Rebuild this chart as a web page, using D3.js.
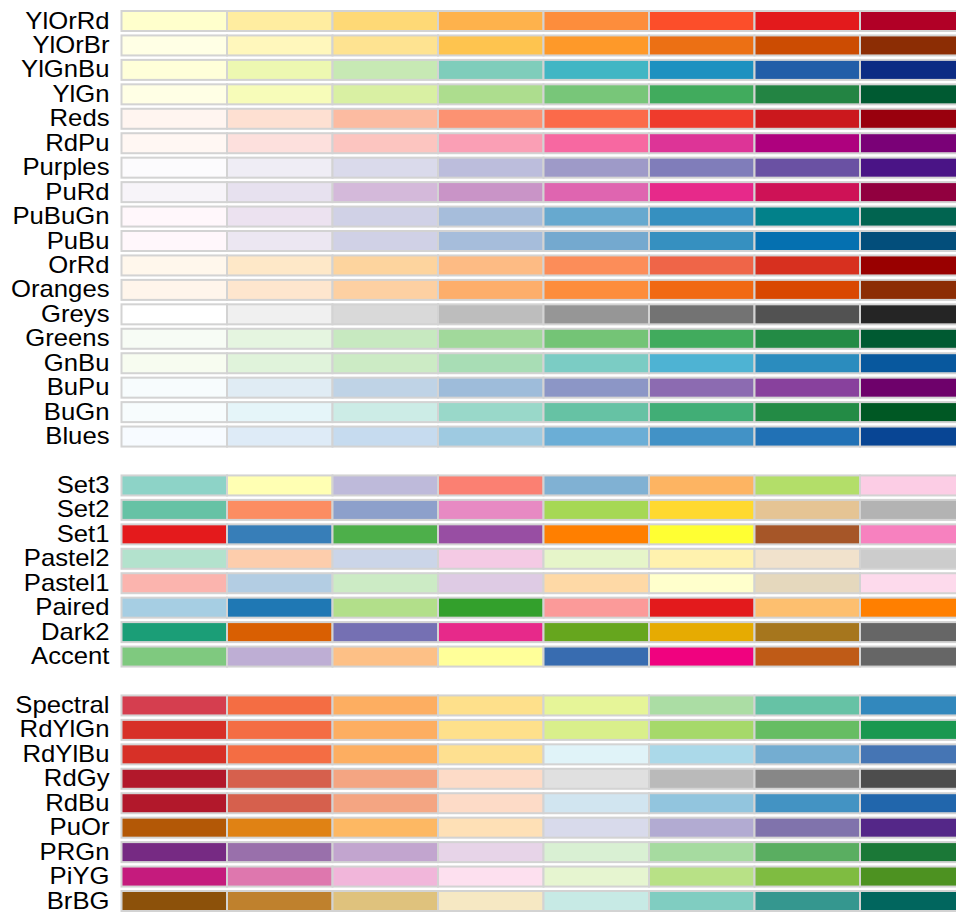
<!DOCTYPE html>
<html>
<head>
<meta charset="utf-8">
<script src="https://cdn.jsdelivr.net/npm/d3@7"></script>
<style>
  html, body { margin: 0; padding: 0; background: #fff; overflow: hidden; }
  svg { display: block; }
</style>
</head>
<body>
<svg id="chart" width="956" height="912"></svg>
<script>
// ---- Data ----
const seqNames = ["YlOrRd","YlOrBr","YlGnBu","YlGn","Reds","RdPu","Purples","PuRd","PuBuGn","PuBu","OrRd","Oranges","Greys","Greens","GnBu","BuPu","BuGn","Blues"];
const seqColors = [
  ["#ffffcc","#ffeda0","#fed976","#feb24c","#fd8d3c","#fc4e2a","#e31a1c","#b10026"],
  ["#ffffe5","#fff7bc","#fee391","#fec44f","#fe9929","#ec7014","#cc4c02","#8c2d04"],
  ["#ffffd9","#edf8b1","#c7e9b4","#7fcdbb","#41b6c4","#1d91c0","#225ea8","#0c2c84"],
  ["#ffffe5","#f7fcb9","#d9f0a3","#addd8e","#78c679","#41ab5d","#238443","#005a32"],
  ["#fff5f0","#fee0d2","#fcbba1","#fc9272","#fb6a4a","#ef3b2c","#cb181d","#99000d"],
  ["#fff7f3","#fde0dd","#fcc5c0","#fa9fb5","#f768a1","#dd3497","#ae017e","#7a0177"],
  ["#fcfbfd","#efedf5","#dadaeb","#bcbddc","#9e9ac8","#807dba","#6a51a3","#4a1486"],
  ["#f7f4f9","#e7e1ef","#d4b9da","#c994c7","#df65b0","#e7298a","#ce1256","#91003f"],
  ["#fff7fb","#ece2f0","#d0d1e6","#a6bddb","#67a9cf","#3690c0","#02818a","#016450"],
  ["#fff7fb","#ece7f2","#d0d1e6","#a6bddb","#74a9cf","#3690c0","#0570b0","#034e7b"],
  ["#fff7ec","#fee8c8","#fdd49e","#fdbb84","#fc8d59","#ef6548","#d7301f","#990000"],
  ["#fff5eb","#fee6ce","#fdd0a2","#fdae6b","#fd8d3c","#f16913","#d94801","#8c2d04"],
  ["#ffffff","#f0f0f0","#d9d9d9","#bdbdbd","#969696","#737373","#525252","#252525"],
  ["#f7fcf5","#e5f5e0","#c7e9c0","#a1d99b","#74c476","#41ab5d","#238b45","#005a32"],
  ["#f7fcf0","#e0f3db","#ccebc5","#a8ddb5","#7bccc4","#4eb3d3","#2b8cbe","#08589e"],
  ["#f7fcfd","#e0ecf4","#bfd3e6","#9ebcda","#8c96c6","#8c6bb1","#88419d","#6e016b"],
  ["#f7fcfd","#e5f5f9","#ccece6","#99d8c9","#66c2a4","#41ae76","#238b45","#005824"],
  ["#f7fbff","#deebf7","#c6dbef","#9ecae1","#6baed6","#4292c6","#2171b5","#084594"]
];
const qualNames = ["Set3","Set2","Set1","Pastel2","Pastel1","Paired","Dark2","Accent"];
const qualColors = [
  ["#8dd3c7","#ffffb3","#bebada","#fb8072","#80b1d3","#fdb462","#b3de69","#fccde5"],
  ["#66c2a5","#fc8d62","#8da0cb","#e78ac3","#a6d854","#ffd92f","#e5c494","#b3b3b3"],
  ["#e41a1c","#377eb8","#4daf4a","#984ea3","#ff7f00","#ffff33","#a65628","#f781bf"],
  ["#b3e2cd","#fdcdac","#cbd5e8","#f4cae4","#e6f5c9","#fff2ae","#f1e2cc","#cccccc"],
  ["#fbb4ae","#b3cde3","#ccebc5","#decbe4","#fed9a6","#ffffcc","#e5d8bd","#fddaec"],
  ["#a6cee3","#1f78b4","#b2df8a","#33a02c","#fb9a99","#e31a1c","#fdbf6f","#ff7f00"],
  ["#1b9e77","#d95f02","#7570b3","#e7298a","#66a61e","#e6ab02","#a6761d","#666666"],
  ["#7fc97f","#beaed4","#fdc086","#ffff99","#386cb0","#f0027f","#bf5b17","#666666"]
];
const divNames = ["Spectral","RdYlGn","RdYlBu","RdGy","RdBu","PuOr","PRGn","PiYG","BrBG"];
const divColors = [
  ["#d53e4f","#f46d43","#fdae61","#fee08b","#e6f598","#abdda4","#66c2a5","#3288bd"],
  ["#d73027","#f46d43","#fdae61","#fee08b","#d9ef8b","#a6d96a","#66bd63","#1a9850"],
  ["#d73027","#f46d43","#fdae61","#fee090","#e0f3f8","#abd9e9","#74add1","#4575b4"],
  ["#b2182b","#d6604d","#f4a582","#fddbc7","#e0e0e0","#bababa","#878787","#4d4d4d"],
  ["#b2182b","#d6604d","#f4a582","#fddbc7","#d1e5f0","#92c5de","#4393c3","#2166ac"],
  ["#b35806","#e08214","#fdb863","#fee0b6","#d8daeb","#b2abd2","#8073ac","#542788"],
  ["#762a83","#9970ab","#c2a5cf","#e7d4e8","#d9f0d3","#a6dba0","#5aae61","#1b7837"],
  ["#c51b7d","#de77ae","#f1b6da","#fde0ef","#e6f5d0","#b8e186","#7fbc41","#4d9221"],
  ["#8c510a","#bf812d","#dfc27d","#f6e8c3","#c7eae5","#80cdc1","#35978f","#01665e"]
];
const nClasses = 8;

// ---- Build rows (gap rows between groups) ----
const rows = [];
seqNames.forEach((n, i) => rows.push({ name: n, colors: seqColors[i] }));
rows.push(null);
qualNames.forEach((n, i) => rows.push({ name: n, colors: qualColors[i] }));
rows.push(null);
divNames.forEach((n, i) => rows.push({ name: n, colors: divColors[i] }));

const rowIndex = rows.map((r, i) => ({ r, i })).filter(d => d.r);

// ---- Scales ----
const y = d3.scaleLinear().domain([0, rows.length - 1]).range([11, 891]);
const x = d3.scaleLinear().domain([0, nClasses]).range([121.5, 965.5]);
const rowH = 20;

const svg = d3.select("#chart");

const g = svg.selectAll("g.row")
  .data(rowIndex)
  .join("g")
  .attr("class", "row")
  .attr("transform", d => `translate(0,${y(d.i)})`);

g.selectAll("rect")
  .data(d => d.r.colors.map((c, k) => ({ c, k })))
  .join("rect")
  .attr("x", d => x(d.k))
  .attr("y", 0)
  .attr("width", d => x(d.k + 1) - x(d.k))
  .attr("height", rowH)
  .attr("fill", d => d.c)
  .attr("stroke", "#d3d3d3")
  .attr("stroke-width", 2);

g.append("text")
  .attr("transform", `translate(109.5,${rowH / 2 + 7.5}) scale(1.07,1)`)
  .attr("text-anchor", "end")
  .attr("font-family", "Liberation Sans, Arial, sans-serif")
  .attr("font-size", 24)
  .attr("fill", "#000")
  .text(d => d.r.name);
</script>
</body>
</html>
